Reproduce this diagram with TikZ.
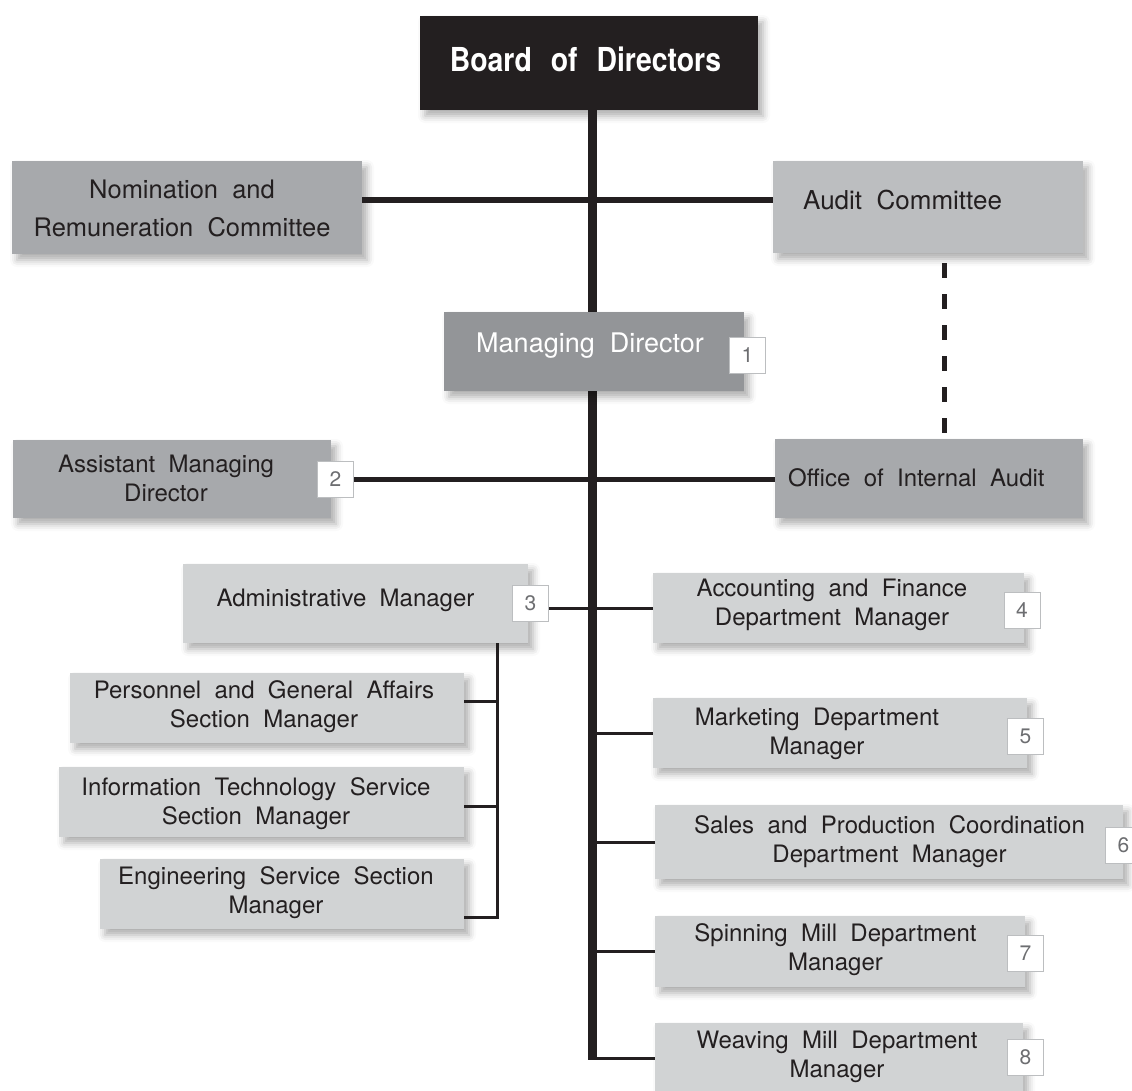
\documentclass[tikz,border=0pt]{standalone}
\usepackage{fontspec}
\setmainfont[WordSpace=2]{TeX Gyre Heros}
\newfontfamily\boardfont[FakeStretch=0.86,WordSpace=2.4]{TeX Gyre Heros}
\usetikzlibrary{shadows.blur,calc}

\definecolor{ink}{HTML}{231F20}
\definecolor{gMid}{HTML}{A7A9AC}
\definecolor{gAud}{HTML}{BCBEC0}
\definecolor{gMD}{HTML}{939598}
\definecolor{gLight}{HTML}{D1D3D4}
\definecolor{numline}{HTML}{BCBEC0}
\definecolor{numtext}{HTML}{6D6E71}

\begin{document}
\begin{tikzpicture}[x=1pt,y=-1pt,
  box/.style={fill=#1, draw=none, inner sep=0pt,
    blur shadow={shadow xshift=5pt,shadow yshift=-6pt,shadow blur radius=7pt,shadow opacity=32}},
  lbl/.style={text=ink, align=center, inner sep=0pt, font=\fontsize{24}{29}\selectfont},
  numbox/.style={draw=numline, fill=white, line width=1pt, minimum width=36pt,
    minimum height=36pt, inner sep=0pt, text=numtext, font=\fontsize{21}{21}\selectfont},
  trunk/.style={draw=ink, line width=9pt},
  bar/.style={draw=ink, line width=6pt},
  branch/.style={draw=ink, line width=3pt},
  dashline/.style={draw=ink, line width=5pt, dash pattern=on 15pt off 16pt}
]
\useasboundingbox (0,0) rectangle (1132,1090);

% ---------- boxes ----------
\node[box=ink, minimum width=338pt, minimum height=94pt] (board) at (589,63) {};
\node[box=gMid, minimum width=350pt, minimum height=93pt] (nom) at (187,207.5) {};
\node[box=gAud, minimum width=310pt, minimum height=92pt] (aud) at (928,207) {};
\node[box=gMid, minimum width=318pt, minimum height=78pt] (asst) at (172,479) {};
\node[box=gMid, minimum width=308pt, minimum height=79pt] (off) at (929,478.5) {};
\node[box=gLight, minimum width=345pt, minimum height=79pt] (adm) at (355.5,603.5) {};
\node[box=gLight, minimum width=371pt, minimum height=70pt] (acc) at (838.5,608) {};
\node[box=gLight, minimum width=394pt, minimum height=70pt] (pers) at (267,708) {};
\node[box=gLight, minimum width=405pt, minimum height=70pt] (it) at (261.5,802) {};
\node[box=gLight, minimum width=364pt, minimum height=70pt] (eng) at (282,894) {};
\node[box=gLight, minimum width=374pt, minimum height=70pt] (mkt) at (840,733) {};
\node[box=gLight, minimum width=468pt, minimum height=74pt] (sal) at (889,842) {};
\node[box=gLight, minimum width=370pt, minimum height=71pt] (spn) at (840,951.5) {};
\node[box=gLight, minimum width=368pt, minimum height=70pt] (wev) at (839,1058) {};

% ---------- connectors ----------
\coordinate (tx) at (592,0);
\coordinate (bx) at (497,0);
\coordinate (dx) at (944,0);

% main trunk and the upper crossing bar
\draw[trunk] (board.south -| tx) -- ([yshift=-1.5pt]tx |- wev.west);
\draw[branch] (tx |- wev.west) -- (wev.west);
\coordinate (nb) at ([yshift=8pt]nom.east);
\draw[bar] (nb) -- (nb -| aud.west);

% dashed reporting line
\coordinate (d1) at ([yshift=-10pt]aud.south);
\draw[dashline] (d1 -| dx) -- (off.north -| dx);

% managing director sits over the trunk
\node[box=gMD, minimum width=300pt, minimum height=79pt] (md) at (594,351.5) {};

% numbered tags
\node[numbox] (n1) at (747.5,355) {1};
\node[numbox] (n2) at (335.5,479) {2};
\node[numbox] (n3) at (530.5,603.5) {3};
\node[numbox] (n4) at (1022,610) {4};
\node[numbox] (n5) at (1025.5,736.5) {5};
\node[numbox] (n6) at (1123.5,845.5) {6};
\node[numbox] (n7) at (1025.5,953.5) {7};
\node[numbox] (n8) at (1025.5,1057.5) {8};

\draw[bar, line width=5pt] (n2.east) -- (n2.east -| off.west);
\draw[branch] (n3.east |- acc.west) -- (acc.west);
\draw[branch] (tx |- mkt.west) -- (mkt.west);
\draw[branch] (tx |- sal.west) -- (sal.west);
\draw[branch] (tx |- spn.west) -- (spn.west);

% administrative sub-branches
\coordinate (pb) at ([yshift=7pt]pers.east);
\coordinate (ib) at ([yshift=-4pt]it.east);
\coordinate (eb) at ([yshift=-23pt]eng.east);
\draw[branch] (adm.south -| bx) |- (eb);
\draw[branch] (pb) -- (pb -| bx);
\draw[branch] (ib) -- (ib -| bx);

% ---------- texts ----------
\node[text=white, inner sep=0pt, font=\boardfont\bfseries\fontsize{33}{33}\selectfont] (board-t) at (585.5,59) {Board of Directors};
\node[lbl, font=\fontsize{25.5}{38}\selectfont] (nom-t) at (182,208) {Nomination and\\Remuneration Committee};
\node[lbl, anchor=west, font=\fontsize{26}{29}\selectfont] (aud-t) at (803,200) {Audit Committee};
\node[lbl, text=white, font=\fontsize{27}{30}\selectfont] (md-t) at (590,346) {Managing Director};
\node[lbl] (asst-t) at (166,478) {Assistant Managing\\Director};
\node[lbl, anchor=west] (off-t) at (788,478) {Office of Internal Audit};
\node[lbl] (adm-t) at (345.5,600) {Administrative Manager};
\node[lbl] (acc-t) at (832,605) {Accounting and Finance\\Department Manager};
\node[lbl] (pers-t) at (264,707) {Personnel and General Affairs\\Section Manager};
\node[lbl] (it-t) at (256,803.5) {Information Technology Service\\Section Manager};
\node[lbl] (eng-t) at (276,892.5) {Engineering Service Section\\Manager};
\node[lbl] (mkt-t) at (817,733.5) {Marketing Department\\Manager};
\node[lbl] (sal-t) at (889.5,841.5) {Sales and Production Coordination\\Department Manager};
\node[lbl] (spn-t) at (835.5,949.5) {Spinning Mill Department\\Manager};
\node[lbl] (wev-t) at (837,1057) {Weaving Mill Department\\Manager};
\end{tikzpicture}
\end{document}
